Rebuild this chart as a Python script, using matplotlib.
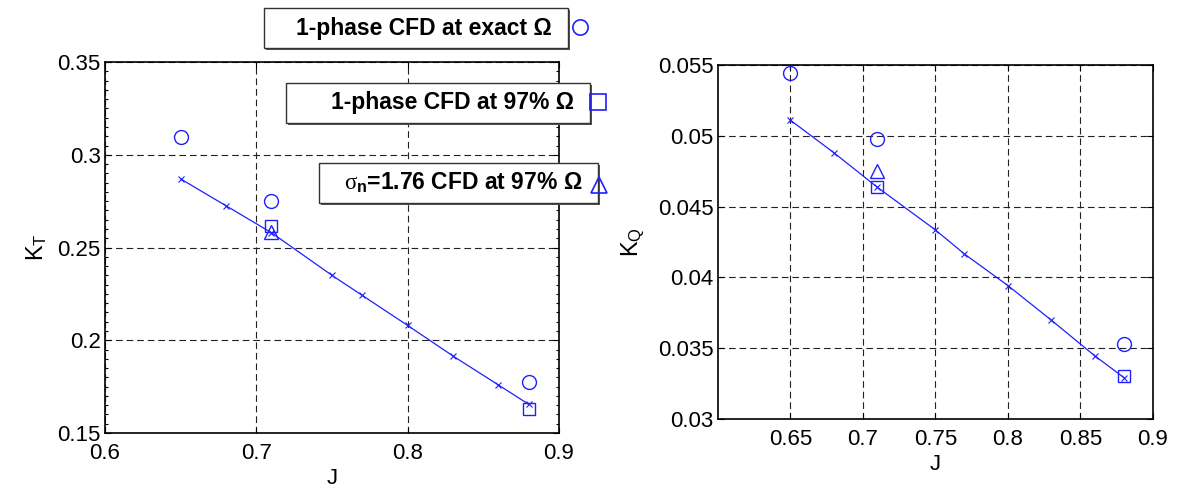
import numpy as np
import matplotlib
matplotlib.use('Agg')
import matplotlib.pyplot as plt
import matplotlib.ticker as ticker
from matplotlib.lines import Line2D
from matplotlib.patches import Rectangle

plt.rcParams['font.family'] = ['Liberation Sans', 'DejaVu Sans']
plt.rcParams['mathtext.fontset'] = 'custom'
plt.rcParams['mathtext.rm'] = 'Liberation Sans'
plt.rcParams['mathtext.it'] = 'Liberation Serif'
plt.rcParams['mathtext.bf'] = 'Liberation Sans:bold'

# line data (fit) and CFD points
J_line = [0.65, 0.68, 0.71, 0.75, 0.77, 0.80, 0.83, 0.86, 0.88]
KT_line = [0.287, 0.2725, 0.258, 0.235, 0.2242, 0.208, 0.1915, 0.1759, 0.1655]
KQ_line = [0.0511, 0.0488, 0.04636, 0.04335, 0.04165, 0.03942, 0.03697, 0.03445, 0.03292]

J_exact = [0.65, 0.71, 0.88]
KT_exact = [0.3097, 0.275, 0.1775]
KQ_exact = [0.05441, 0.0498, 0.03527]

J_97 = [0.71, 0.88]
KT_97 = [0.2616, 0.1628]
KQ_97 = [0.04641, 0.03304]

J_sig = [0.71]
KT_sig = [0.2583]
KQ_sig = [0.04755]

legend_texts = ['1-phase CFD at exact \u03a9',
                '1-phase CFD at 97% \u03a9',
                '$\\sigma_\\mathbf{n}$=1.76 CFD at 97% \u03a9']

blue = '#1f1fff'
fig = plt.figure(figsize=(11.77, 4.9), dpi=100)
ax1 = fig.add_axes([0.0892, 0.1163, 0.3857, 0.7571])
ax2 = fig.add_axes([0.610, 0.1449, 0.3696, 0.7224])

def draw(ax, yl, ye, y97, ys):
    ax.plot(J_line, yl, color=blue, lw=0.9, marker='x', ms=4, mew=0.8)
    ax.plot(J_exact, ye, ls='none', marker='o', ms=10, mfc='none', mec=blue, mew=1)
    ax.plot(J_97, y97, ls='none', marker='s', ms=9, mfc='none', mec=blue, mew=1)
    ax.plot(J_sig, ys, ls='none', marker='^', ms=10, mfc='none', mec=blue, mew=1)
    ax.grid(True, color='#222222', lw=0.8, ls=(0, (6, 3.5)))
    ax.tick_params(direction='in', top=True, right=True, labelsize=16,
                   length=4, width=0.8, pad=3)
    ax.tick_params(axis='x', pad=7)
    for s in ax.spines.values():
        s.set_linewidth(1.2)
    ax.set_xlabel('J', fontsize=16, labelpad=3)

draw(ax1, KT_line, KT_exact, KT_97, KT_sig)
ax1.set_xlim(0.6, 0.9)
ax1.set_ylim(0.15, 0.35)
ax1.xaxis.set_major_locator(ticker.MultipleLocator(0.1))
ax1.yaxis.set_major_locator(ticker.MultipleLocator(0.05))
ax1.yaxis.set_minor_locator(ticker.MultipleLocator(0.005))
ax1.tick_params(which='minor', direction='in', right=True, length=2.5, width=0.8)
ax1.xaxis.set_major_formatter(ticker.FormatStrFormatter('%g'))
ax1.yaxis.set_major_formatter(ticker.FormatStrFormatter('%g'))
ax1.set_ylabel(r'$\mathregular{K_T}$', fontsize=17, labelpad=6)

draw(ax2, KQ_line, KQ_exact, KQ_97, KQ_sig)
ax2.set_xlim(0.6, 0.9)
ax2.set_ylim(0.03, 0.055)
ax2.set_xticks([0.65, 0.7, 0.75, 0.8, 0.85, 0.9])
ax2.yaxis.set_major_locator(ticker.MultipleLocator(0.005))
ax2.xaxis.set_major_formatter(ticker.FormatStrFormatter('%g'))
ax2.yaxis.set_major_formatter(ticker.FormatStrFormatter('%g'))
ax2.set_ylabel(r'$\mathregular{K_Q}$', fontsize=17, labelpad=8)

# legend-like boxes at the top
W, H = 1177.0, 490.0
boxes = [(264, 8, 568, 48, 'o', 580, 27),
         (286, 83, 590, 123, 's', 598, 102),
         (319, 163, 598, 203, '^', 599, 185)]
for (x0, y0, x1, y1, mk, mx, my), txt in zip(boxes, legend_texts):
    fig.patches.append(Rectangle((x0 / W + 2 / W, 1 - y1 / H - 2 / H),
                                 (x1 - x0) / W, (y1 - y0) / H,
                                 transform=fig.transFigure, fc='#555555',
                                 ec='none', zorder=5))
    fig.patches.append(Rectangle((x0 / W, 1 - y1 / H), (x1 - x0) / W, (y1 - y0) / H,
                                 transform=fig.transFigure, fc='white',
                                 ec='#333333', lw=1.0, zorder=6))
    fig.text((x1 - 16) / W, 1 - (y0 + y1) / 2 / H, txt, ha='right', va='center',
             fontsize=16.5, fontweight='bold', zorder=7)
    fig.lines.append(Line2D([mx / W], [1 - my / H], transform=fig.transFigure,
                            marker=mk, ms=11 if mk != 's' else 12, mfc='none',
                            mec=blue, mew=1.2, ls='none', zorder=7))

fig.savefig('out.png', dpi=100)
